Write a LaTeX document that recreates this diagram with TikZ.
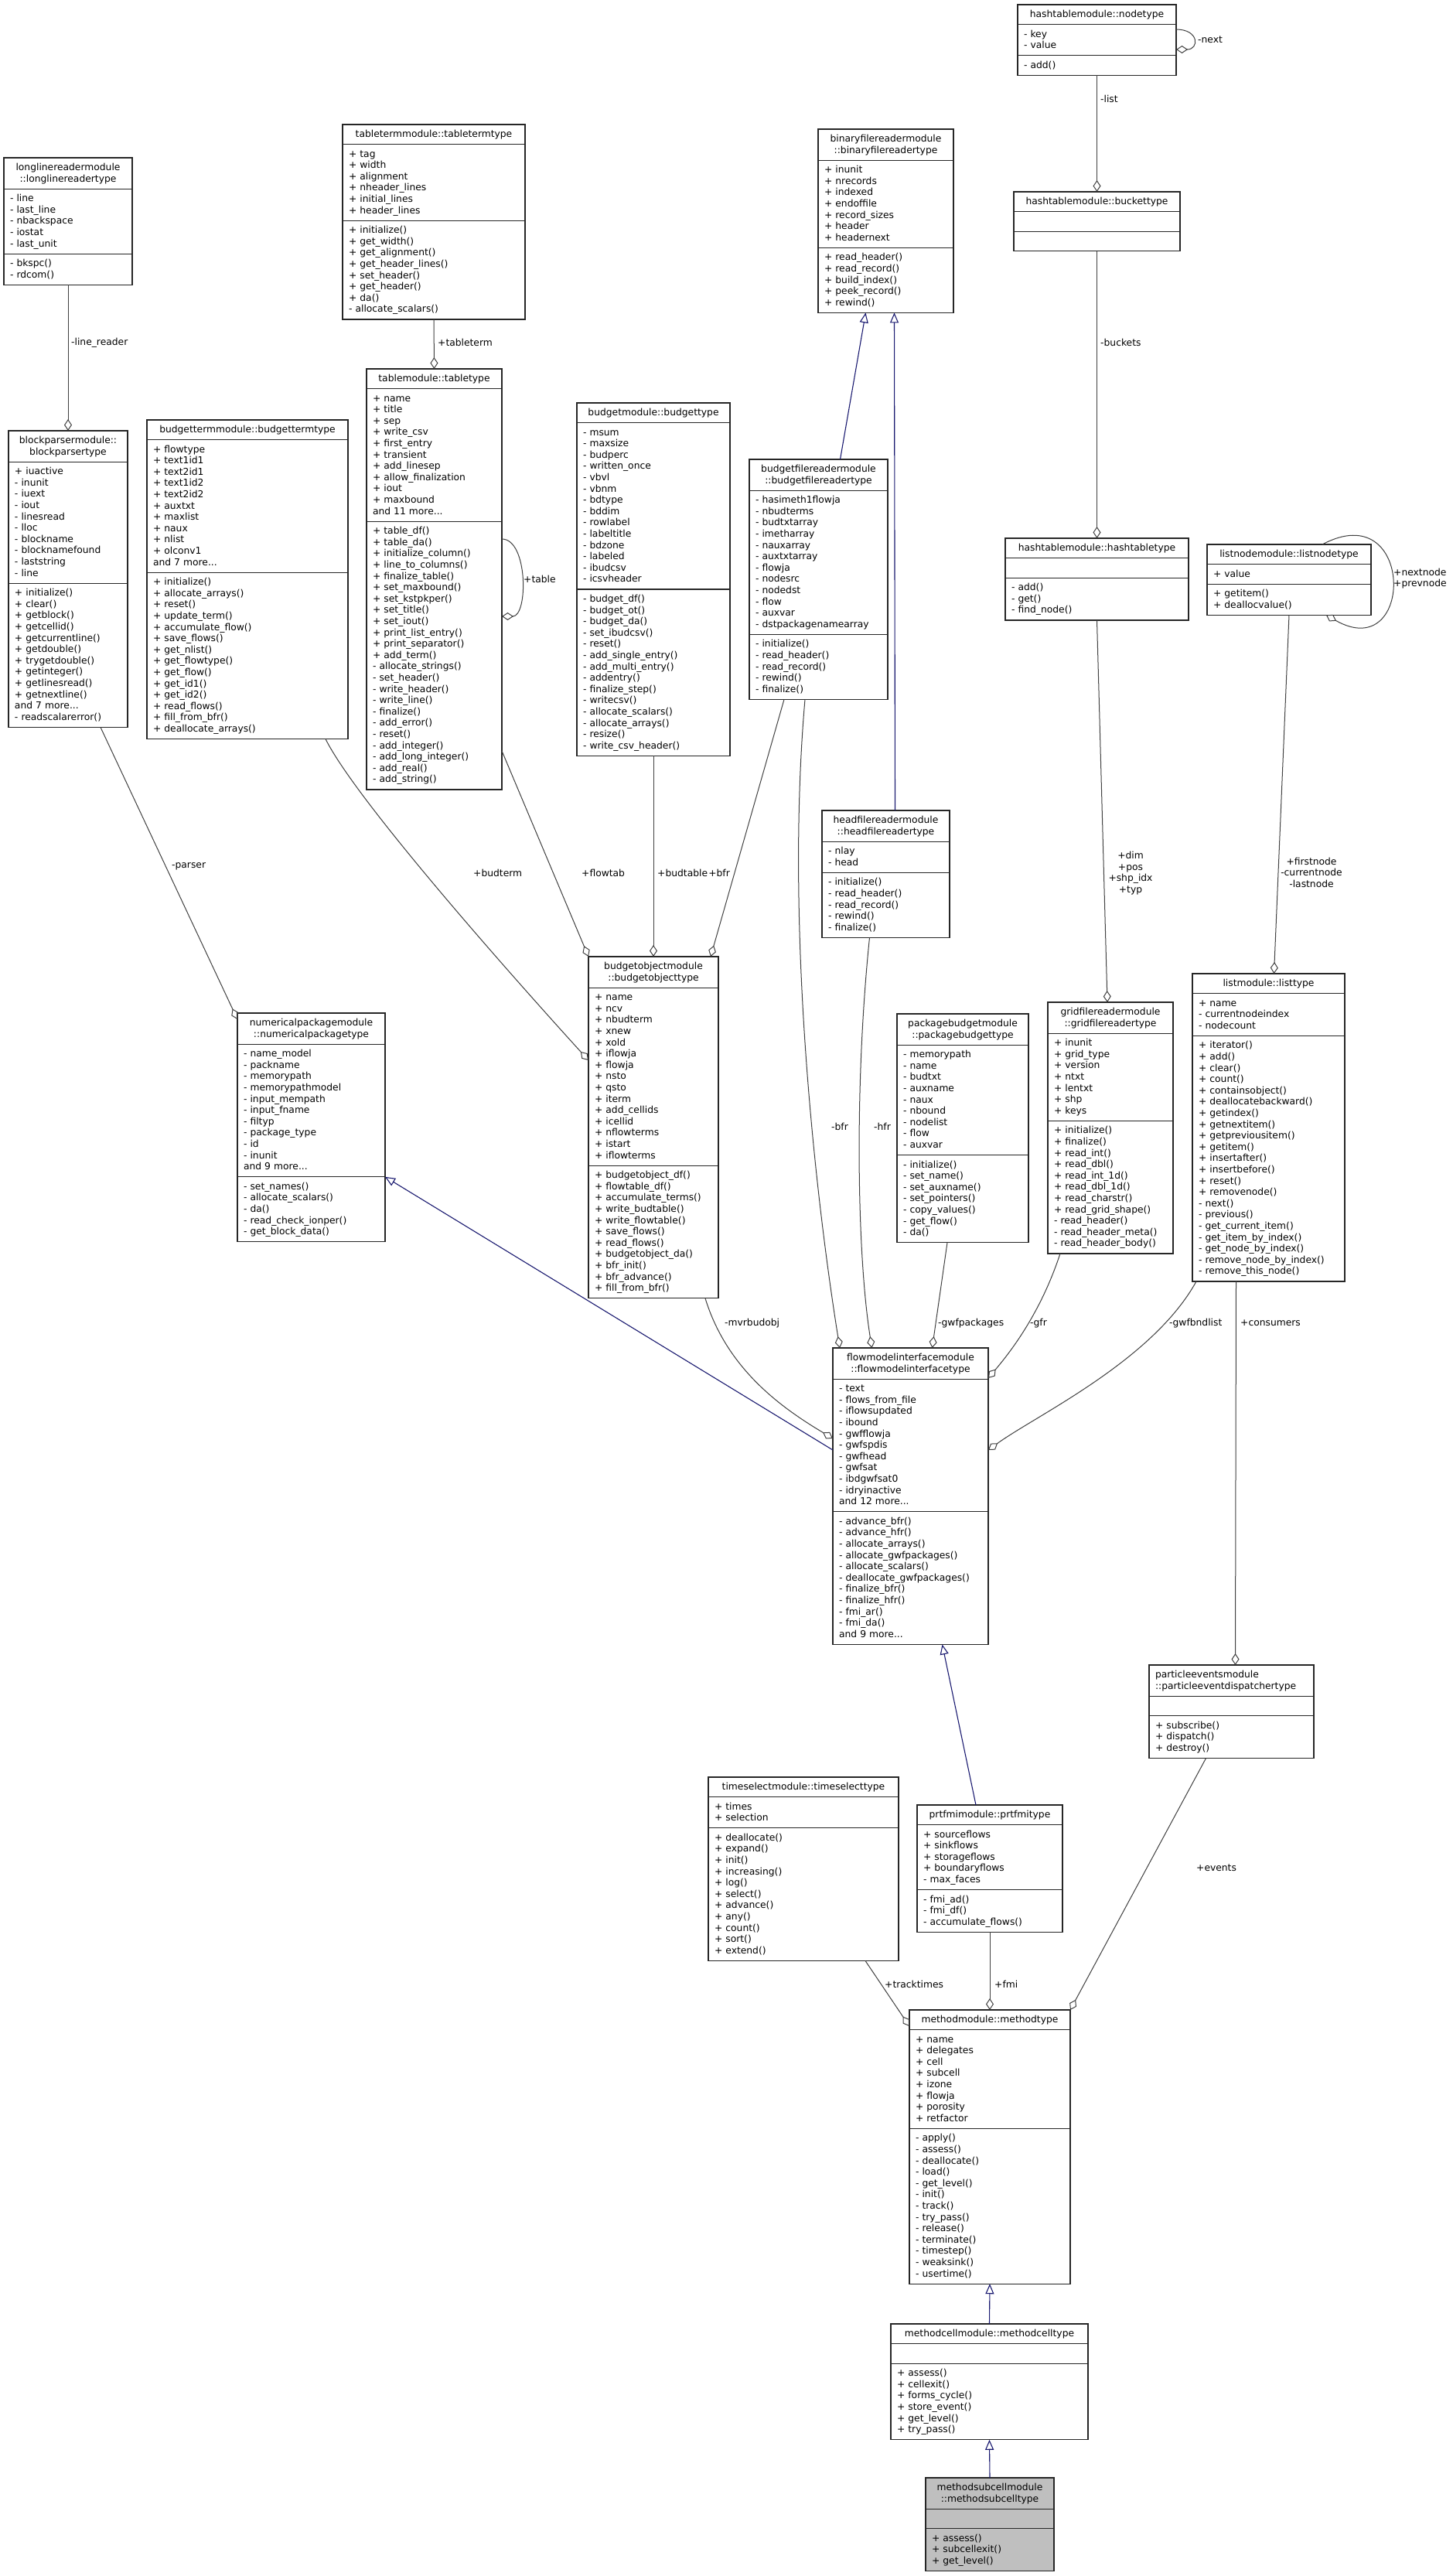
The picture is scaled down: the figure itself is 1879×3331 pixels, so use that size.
\documentclass[tikz,border=0pt]{standalone}
\usepackage{fontspec}
\setmainfont{DejaVu Sans}
\usetikzlibrary{fit,arrows.meta,calc}
\definecolor{inhcol}{HTML}{191970}
\definecolor{edgecol}{HTML}{404040}
\definecolor{subfill}{HTML}{BFBFBF}
\newcommand{\ustrut}{\rule[-3.6pt]{0pt}{14.6pt}}
\tikzset{
  umlfont/.style={font=\fontsize{12.3}{14.6}\selectfont},
  secbox/.style={draw=black!85, line width=1.2pt, umlfont, inner xsep=8pt, inner ysep=5.5pt, outer sep=0pt,
    execute at begin node={\ustrut}, execute at end node={\ustrut}},
  agg/.style={draw=edgecol, line width=1pt, -{Diamond[open, length=15pt, width=10pt, line width=1pt]}},
  inh/.style={draw=inhcol, line width=1.1pt, -{Triangle[open, length=13pt, width=11pt, line width=1.1pt]}},
  lbl/.style={umlfont, anchor=west, inner sep=0pt},
}
\newcommand{\umlclass}[8][white]{%
  \pgfmathsetmacro\umltw{#4-16}%
  \node[secbox,fill=#1,text width=\umltw pt,align=#5,anchor=north west] (#2-t) at (#3) {#6};%
  \node[secbox,fill=#1,text width=\umltw pt,align=left,anchor=north west] (#2-a) at (#2-t.south west) {#7};%
  \node[secbox,fill=#1,text width=\umltw pt,align=left,anchor=north west] (#2-m) at (#2-a.south west) {#8};%
  \node[fit=(#2-t)(#2-m),inner sep=0pt,outer sep=0pt] (#2) {};%
}
\begin{document}
\begin{tikzpicture}[x=1pt,y=-1pt]
\fill[white] (0,0) rectangle (1879,3331);
\useasboundingbox (0,0) rectangle (1879,3331);

% ---------- classes ----------
\umlclass{longline}{5,204}{166}{center}{longlinereadermodule\\::longlinereadertype}
 {- line\\- last\_line\\- nbackspace\\- iostat\\- last\_unit}
 {- bkspc()\\- rdcom()}

\umlclass{blockparser}{11,557}{154}{center}{blockparsermodule::\\blockparsertype}
 {+ iuactive\\- inunit\\- iuext\\- iout\\- linesread\\- lloc\\- blockname\\- blocknamefound\\- laststring\\- line}
 {+ initialize()\\+ clear()\\+ getblock()\\+ getcellid()\\+ getcurrentline()\\+ getdouble()\\+ trygetdouble()\\+ getinteger()\\+ getlinesread()\\+ getnextline()\\and 7 more...\\- readscalarerror()}

\umlclass{tableterm}{443,161}{236}{center}{tabletermmodule::tabletermtype}
 {+ tag\\+ width\\+ alignment\\+ nheader\_lines\\+ initial\_lines\\+ header\_lines}
 {+ initialize()\\+ get\_width()\\+ get\_alignment()\\+ get\_header\_lines()\\+ set\_header()\\+ get\_header()\\+ da()\\- allocate\_scalars()}

\umlclass{budgetterm}{190,543}{260}{center}{budgettermmodule::budgettermtype}
 {+ flowtype\\+ text1id1\\+ text2id1\\+ text1id2\\+ text2id2\\+ auxtxt\\+ maxlist\\+ naux\\+ nlist\\+ olconv1\\and 7 more...}
 {+ initialize()\\+ allocate\_arrays()\\+ reset()\\+ update\_term()\\+ accumulate\_flow()\\+ save\_flows()\\+ get\_nlist()\\+ get\_flowtype()\\+ get\_flow()\\+ get\_id1()\\+ get\_id2()\\+ read\_flows()\\+ fill\_from\_bfr()\\+ deallocate\_arrays()}

\umlclass{tabletype}{474,477}{175}{center}{tablemodule::tabletype}
 {+ name\\+ title\\+ sep\\+ write\_csv\\+ first\_entry\\+ transient\\+ add\_linesep\\+ allow\_finalization\\+ iout\\+ maxbound\\and 11 more...}
 {+ table\_df()\\+ table\_da()\\+ initialize\_column()\\+ line\_to\_columns()\\+ finalize\_table()\\+ set\_maxbound()\\+ set\_kstpkper()\\+ set\_title()\\+ set\_iout()\\+ print\_list\_entry()\\+ print\_separator()\\+ add\_term()\\- allocate\_strings()\\- set\_header()\\- write\_header()\\- write\_line()\\- finalize()\\- add\_error()\\- reset()\\- add\_integer()\\- add\_long\_integer()\\- add\_real()\\- add\_string()}

\umlclass{budgettype}{746,521}{198}{center}{budgetmodule::budgettype}
 {- msum\\- maxsize\\- budperc\\- written\_once\\- vbvl\\- vbnm\\- bdtype\\- bddim\\- rowlabel\\- labeltitle\\- bdzone\\- labeled\\- ibudcsv\\- icsvheader}
 {- budget\_df()\\- budget\_ot()\\- budget\_da()\\- set\_ibudcsv()\\- reset()\\- add\_single\_entry()\\- add\_multi\_entry()\\- addentry()\\- finalize\_step()\\- writecsv()\\- allocate\_scalars()\\- allocate\_arrays()\\- resize()\\- write\_csv\_header()}

\umlclass{binary}{1058,167}{175}{center}{binaryfilereadermodule\\::binaryfilereadertype}
 {+ inunit\\+ nrecords\\+ indexed\\+ endoffile\\+ record\_sizes\\+ header\\+ headernext}
 {+ read\_header()\\+ read\_record()\\+ build\_index()\\+ peek\_record()\\+ rewind()}

\umlclass{bfreader}{969,594}{179}{center}{budgetfilereadermodule\\::budgetfilereadertype}
 {- hasimeth1flowja\\- nbudterms\\- budtxtarray\\- imetharray\\- nauxarray\\- auxtxtarray\\- flowja\\- nodesrc\\- nodedst\\- flow\\- auxvar\\- dstpackagenamearray}
 {- initialize()\\- read\_header()\\- read\_record()\\- rewind()\\- finalize()}

\umlclass{hfreader}{1063,1048}{165}{center}{headfilereadermodule\\::headfilereadertype}
 {- nlay\\- head}
 {- initialize()\\- read\_header()\\- read\_record()\\- rewind()\\- finalize()}

\umlclass{budobj}{761,1237}{168}{center}{budgetobjectmodule\\::budgetobjecttype}
 {+ name\\+ ncv\\+ nbudterm\\+ xnew\\+ xold\\+ iflowja\\+ flowja\\+ nsto\\+ qsto\\+ iterm\\+ add\_cellids\\+ icellid\\+ nflowterms\\+ istart\\+ iflowterms}
 {+ budgetobject\_df()\\+ flowtable\_df()\\+ accumulate\_terms()\\+ write\_budtable()\\+ write\_flowtable()\\+ save\_flows()\\+ read\_flows()\\+ budgetobject\_da()\\+ bfr\_init()\\+ bfr\_advance()\\+ fill\_from\_bfr()}

\umlclass{numpkg}{307,1310}{191}{center}{numericalpackagemodule\\::numericalpackagetype}
 {- name\_model\\- packname\\- memorypath\\- memorypathmodel\\- input\_mempath\\- input\_fname\\- filtyp\\- package\_type\\- id\\- inunit\\and 9 more...}
 {- set\_names()\\- allocate\_scalars()\\- da()\\- read\_check\_ionper()\\- get\_block\_data()}

\umlclass{pkgbud}{1160,1311}{170}{center}{packagebudgetmodule\\::packagebudgettype}
 {- memorypath\\- name\\- budtxt\\- auxname\\- naux\\- nbound\\- nodelist\\- flow\\- auxvar}
 {- initialize()\\- set\_name()\\- set\_auxname()\\- set\_pointers()\\- copy\_values()\\- get\_flow()\\- da()}

\umlclass{gridfr}{1355,1296}{162}{center}{gridfilereadermodule\\::gridfilereadertype}
 {+ inunit\\+ grid\_type\\+ version\\+ ntxt\\+ lentxt\\+ shp\\+ keys}
 {+ initialize()\\+ finalize()\\+ read\_int()\\+ read\_dbl()\\+ read\_int\_1d()\\+ read\_dbl\_1d()\\+ read\_charstr()\\+ read\_grid\_shape()\\- read\_header()\\- read\_header\_meta()\\- read\_header\_body()}

\umlclass{listtype}{1542,1259}{197}{center}{listmodule::listtype}
 {+ name\\- currentnodeindex\\- nodecount}
 {+ iterator()\\+ add()\\+ clear()\\+ count()\\+ containsobject()\\+ deallocatebackward()\\+ getindex()\\+ getnextitem()\\+ getpreviousitem()\\+ getitem()\\+ insertafter()\\+ insertbefore()\\+ reset()\\+ removenode()\\- next()\\- previous()\\- get\_current\_item()\\- get\_item\_by\_index()\\- get\_node\_by\_index()\\- remove\_node\_by\_index()\\- remove\_this\_node()}

\umlclass{nodetype}{1316,6}{205}{center}{hashtablemodule::nodetype}
 {- key\\- value}
 {- add()}

\umlclass{bucket}{1311,248}{215}{center}{hashtablemodule::buckettype}
 {}
 {}

\umlclass{hashtable}{1300,696}{237}{center}{hashtablemodule::hashtabletype}
 {}
 {- add()\\- get()\\- find\_node()}

\umlclass{listnode}{1561,704}{212}{center}{listnodemodule::listnodetype}
 {+ value}
 {+ getitem()\\+ deallocvalue()}

\umlclass{fmi}{1077,1743}{201}{center}{flowmodelinterfacemodule\\::flowmodelinterfacetype}
 {- text\\- flows\_from\_file\\- iflowsupdated\\- ibound\\- gwfflowja\\- gwfspdis\\- gwfhead\\- gwfsat\\- ibdgwfsat0\\- idryinactive\\and 12 more...}
 {- advance\_bfr()\\- advance\_hfr()\\- allocate\_arrays()\\- allocate\_gwfpackages()\\- allocate\_scalars()\\- deallocate\_gwfpackages()\\- finalize\_bfr()\\- finalize\_hfr()\\- fmi\_ar()\\- fmi\_da()\\and 9 more...}

\umlclass{pevent}{1486,2153}{213}{left}{particleeventsmodule\\::particleeventdispatchertype}
 {}
 {+ subscribe()\\+ dispatch()\\+ destroy()}

\umlclass{tsel}{916,2298}{246}{center}{timeselectmodule::timeselecttype}
 {+ times\\+ selection}
 {+ deallocate()\\+ expand()\\+ init()\\+ increasing()\\+ log()\\+ select()\\+ advance()\\+ any()\\+ count()\\+ sort()\\+ extend()}

\umlclass{prtfmi}{1186,2334}{188}{center}{prtfmimodule::prtfmitype}
 {+ sourceflows\\+ sinkflows\\+ storageflows\\+ boundaryflows\\- max\_faces}
 {- fmi\_ad()\\- fmi\_df()\\- accumulate\_flows()}

\umlclass{method}{1176,2599}{208}{center}{methodmodule::methodtype}
 {+ name\\+ delegates\\+ cell\\+ subcell\\+ izone\\+ flowja\\+ porosity\\+ retfactor}
 {- apply()\\- assess()\\- deallocate()\\- load()\\- get\_level()\\- init()\\- track()\\- try\_pass()\\- release()\\- terminate()\\- timestep()\\- weaksink()\\- usertime()}

\umlclass{mcell}{1152,3005}{255}{center}{methodcellmodule::methodcelltype}
 {}
 {+ assess()\\+ cellexit()\\+ forms\_cycle()\\+ store\_event()\\+ get\_level()\\+ try\_pass()}

\umlclass[subfill]{msubcell}{1197,3204}{166}{center}{methodsubcellmodule\\::methodsubcelltype}
 {}
 {+ assess()\\+ subcellexit()\\+ get\_level()}

% ---------- connectors ----------
\draw[agg] (longline.south) -- (blockparser.north);
\draw[agg] (tableterm.south) -- (tabletype.north);
\draw[agg] ([yshift=-220pt]tabletype.north east) .. controls +(34,0) and +(34,0) .. ([yshift=-320pt]tabletype.north east);
\draw[agg] ([yshift=-32pt]nodetype.north east) .. controls +(30,0) and +(30,0) .. ([yshift=-58pt]nodetype.north east);
\draw[agg] ([xshift=43pt]listnode.north) .. controls +(120,-64) and +(115,65) .. ([xshift=48pt]listnode.south);
\draw[agg] (nodetype.south) -- (bucket.north);
\draw[agg] (bucket.south) -- (hashtable.north);
\draw[agg] (hashtable.south) -- ([xshift=-4pt]gridfr.north);
\draw[agg] (listnode.south) -- ([xshift=7pt]listtype.north);
\draw[inh] ([xshift=28pt]bfreader.north) -- ([xshift=-26pt]binary.south);
\draw[inh] ([xshift=12pt]hfreader.north) -- ([xshift=11pt]binary.south);
\draw[agg] ([xshift=42pt]blockparser.south) -- ([yshift=-8pt]numpkg.north west);
\draw[agg] ([xshift=101pt]budgetterm.south) .. controls +(40,80) and +(-100,-110) .. ([yshift=-134pt]budobj.north west);
\draw[agg] ([yshift=50pt]tabletype.south east) -- (budobj.north west);
\draw[agg] (budgettype.south) -- (budobj.north);
\draw[agg] ([xshift=-44.5pt]bfreader.south) -- ([xshift=-10pt]budobj.north east);
\draw[agg] ([xshift=-17.5pt]bfreader.south) .. controls (1015,1200) and (1055,1550) .. ([xshift=-91.5pt]fmi.north);
\draw[agg] ([xshift=-21pt]hfreader.south) .. controls (1105,1400) and (1108,1620) .. ([xshift=-50pt]fmi.north);
\draw[agg] ([xshift=-17pt]budobj.south east) .. controls (940,1770) and (1010,1820) .. ([yshift=-117pt]fmi.north west);
\draw[inh] ([yshift=-132pt]fmi.north west) -- ([yshift=-211.8pt]numpkg.north east);
\draw[agg] ([xshift=-20pt]pkgbud.south) -- ([xshift=28pt]fmi.north);
\draw[agg] ([xshift=-65pt]gridfr.south) .. controls (1345,1700) and (1305,1750) .. ([yshift=-39pt]fmi.north east);
\draw[agg] ([xshift=5pt]listtype.south west) .. controls (1490,1760) and (1340,1830) .. ([yshift=-132pt]fmi.north east);
\draw[agg] ([xshift=-42pt]listtype.south) -- ([xshift=5pt]pevent.north);
\draw[inh] ([xshift=-18pt]prtfmi.north) -- ([xshift=41pt]fmi.south);
\draw[agg] ([xshift=-33pt]pevent.south) -- (method.north east);
\draw[agg] ([xshift=80pt]tsel.south) -- ([yshift=-21pt]method.north west);
\draw[agg] (prtfmi.south) -- (method.north);
\draw[inh] (mcell.north) -- (method.south);
\draw[inh] (msubcell.north) -- (mcell.south);

% ---------- labels ----------
\node[lbl] (l1) at (92,443) {-line\_reader};
\node[lbl] (l2) at (566,443) {+tableterm};
\node[lbl] (l3) at (677,749) {+table};
\node[lbl] (l4) at (1549,51) {-next};
\node[lbl] (l5) at (1423,128) {-list};
\node[lbl] (l6) at (1423,443) {-buckets};
\node[lbl,align=left] (l7) at (1802,748) {+nextnode\\+prevnode};
\node[lbl,anchor=center,align=center] (l8) at (1462,1129) {+dim\\+pos\\+shp\_idx\\+typ};
\node[lbl,anchor=center,align=center] (l9) at (1696,1128) {+firstnode\\-currentnode\\-lastnode};
\node[lbl] (l10) at (222,1120) {-parser};
\node[lbl] (l11) at (612,1129) {+budterm};
\node[lbl] (l12) at (752,1129) {+flowtab};
\node[lbl] (l13) at (850,1129) {+budtable};
\node[lbl,anchor=east] (l14) at (944,1129) {+bfr};
\node[lbl] (l15) at (1075,1457) {-bfr};
\node[lbl] (l16) at (1130,1457) {-hfr};
\node[lbl] (l17) at (937,1711) {-mvrbudobj};
\node[lbl] (l18) at (1213,1711) {-gwfpackages};
\node[lbl] (l19) at (1332,1711) {-gfr};
\node[lbl] (l20) at (1512,1711) {-gwfbndlist};
\node[lbl] (l21) at (1604,1711) {+consumers};
\node[lbl] (l22) at (1547,2415) {+events};
\node[lbl] (l23) at (1144,2566) {+tracktimes};
\node[lbl] (l24) at (1286,2566) {+fmi};
\end{tikzpicture}
\end{document}
